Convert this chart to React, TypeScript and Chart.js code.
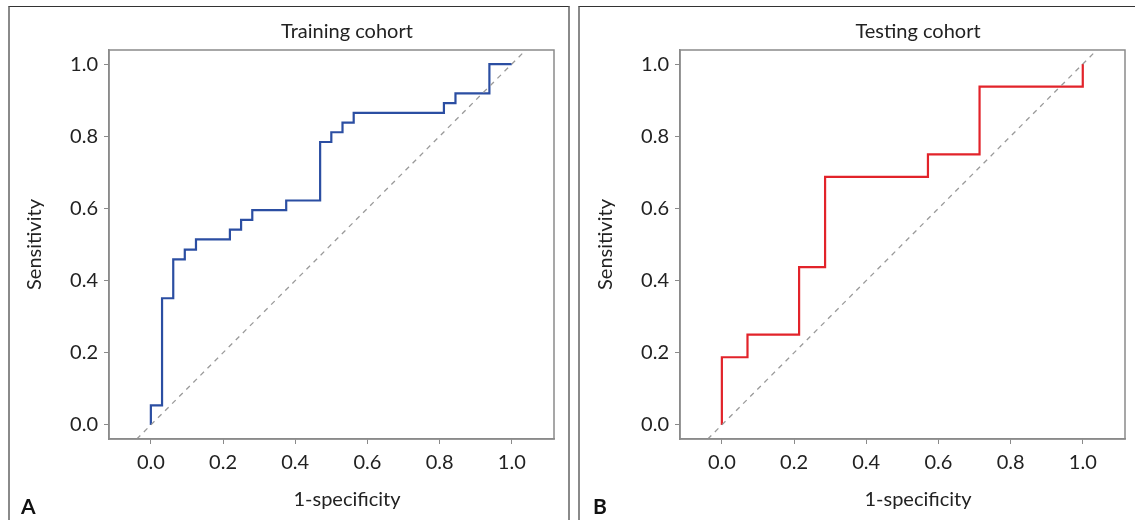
import React, { useEffect, useRef } from 'react';
import { Chart, registerables } from 'chart.js';

Chart.register(...registerables);

// ---- data ----
const trainingFpr = [0, 0, 0.031, 0.062, 0.094, 0.125, 0.219, 0.25, 0.281, 0.375, 0.469, 0.5, 0.531, 0.562, 0.812, 0.844, 0.938, 1.0];
const trainingTpr = [0, 0.054, 0.351, 0.459, 0.486, 0.514, 0.541, 0.568, 0.595, 0.622, 0.784, 0.811, 0.838, 0.865, 0.892, 0.919, 1.0, 1.0];

const testingFpr = [0, 0, 0.071, 0.214, 0.286, 0.571, 0.714, 1.0];
const testingTpr = [0, 0.1875, 0.25, 0.4375, 0.6875, 0.75, 0.9375, 1.0];

const xTickValues = [0, 0.2, 0.4, 0.6, 0.8, 1.0];
const yTickValues = [0, 0.2, 0.4, 0.6, 0.8, 1.0];

const X_MIN = -0.116;
const X_MAX = 1.117;
const Y_MIN = -0.039;
const Y_MAX = 1.039;
const chanceLine = [Y_MIN, Y_MAX];

const FONT = "Lato, 'Open Sans', sans-serif";
const FONT_SIZE = 20;
const AXIS_GRAY = '#8a8a8a';
const TEXT_COLOR = '#222222';

const boxPlugin = {
  id: 'plotBox',
  afterDatasetsDraw(chart: any) {
    const { ctx, chartArea } = chart;
    ctx.save();
    ctx.strokeStyle = AXIS_GRAY;
    ctx.lineWidth = 1.5;
    ctx.strokeRect(chartArea.left, chartArea.top, chartArea.right - chartArea.left, chartArea.bottom - chartArea.top);
    ctx.restore();
  },
};

function RocPanel(props: { fpr: number[]; tpr: number[]; color: string; left: number }) {
  const ref = useRef<HTMLCanvasElement | null>(null);
  useEffect(() => {
    if (!ref.current) return;
    const chart = new Chart(ref.current, {
      type: 'line',
      data: {
        datasets: [
          {
            data: chanceLine.map((v) => ({ x: v, y: v })),
            borderColor: '#9a9a9a',
            borderWidth: 1.3,
            borderDash: [5, 5],
            pointRadius: 0,
            clip: 0,
          },
          {
            data: props.fpr.map((v, i) => ({ x: v, y: props.tpr[i] })),
            borderColor: props.color,
            borderWidth: 2.2,
            pointRadius: 0,
            stepped: 'before',
          },
        ],
      },
      options: {
        animation: false,
        responsive: false,
        devicePixelRatio: 1,
        layout: { padding: { left: 0, top: 43, right: 10, bottom: 0 } },
        plugins: { legend: { display: false }, tooltip: { enabled: false }, title: { display: false } },
        scales: {
          x: {
            type: 'linear',
            min: X_MIN,
            max: X_MAX,
            afterBuildTicks: (s: any) => {
              s.ticks = xTickValues.map((v) => ({ value: v }));
            },
            afterFit: (s: any) => {
              s.height = 81;
            },
            ticks: {
              callback: (v: any) => Number(v).toFixed(1),
              font: { family: FONT, size: FONT_SIZE },
              color: TEXT_COLOR,
              padding: 6.4,
              maxRotation: 0,
            },
            grid: { display: true, drawOnChartArea: false, drawTicks: true, tickLength: 5, color: AXIS_GRAY, lineWidth: 1 },
            border: { display: true, color: AXIS_GRAY, width: 1.5 },
          },
          y: {
            type: 'linear',
            min: Y_MIN,
            max: Y_MAX,
            afterBuildTicks: (s: any) => {
              s.ticks = yTickValues.map((v) => ({ value: v }));
            },
            afterFit: (s: any) => {
              s.width = 100;
            },
            ticks: {
              callback: (v: any) => Number(v).toFixed(1),
              font: { family: FONT, size: FONT_SIZE },
              color: TEXT_COLOR,
              padding: 6,
            },
            grid: { display: true, drawOnChartArea: false, drawTicks: true, tickLength: 5, color: AXIS_GRAY, lineWidth: 1 },
            border: { display: true, color: AXIS_GRAY, width: 1.5 },
            title: {
              display: true,
              text: 'Sensitivity',
              font: { family: FONT, size: FONT_SIZE },
              color: TEXT_COLOR,
              padding: { top: 14, bottom: 0 },
            },
          },
        },
      },
      plugins: [boxPlugin],
    } as any);
    return () => chart.destroy();
  }, []);
  return (
    <canvas
      ref={ref}
      width={555}
      height={513}
      style={{ position: 'absolute', left: props.left, top: 7, width: 555, height: 513 }}
    />
  );
}

const textStyle: React.CSSProperties = {
  position: 'absolute',
  fontFamily: FONT,
  fontSize: FONT_SIZE,
  lineHeight: `${FONT_SIZE}px`,
  color: TEXT_COLOR,
  whiteSpace: 'nowrap',
  textAlign: 'center',
  width: 300,
};

const letterStyle: React.CSSProperties = {
  position: 'absolute',
  fontFamily: FONT,
  fontSize: 21,
  fontWeight: 700,
  lineHeight: '21px',
  color: '#111',
};

export default function App() {
  return (
    <div style={{ position: 'absolute', left: 0, top: 0, width: 1135, height: 520, overflow: 'hidden', background: '#fff' }}>
      {/* panel frames */}
      <div style={{ position: 'absolute', left: 8, top: 6, width: 562, height: 520, borderTop: '1px solid #333', borderLeft: `2px solid ${AXIS_GRAY}`, borderRight: `2px solid ${AXIS_GRAY}`, boxSizing: 'border-box' }} />
      <div style={{ position: 'absolute', left: 578, top: 6, width: 560, height: 520, borderTop: '1px solid #333', borderLeft: `2px solid ${AXIS_GRAY}`, boxSizing: 'border-box' }} />

      <RocPanel fpr={trainingFpr} tpr={trainingTpr} color="#2b4ea2" left={9} />
      <RocPanel fpr={testingFpr} tpr={testingTpr} color="#e2232a" left={580} />

      <div style={{ ...textStyle, left: 347 - 150, top: 20 }}>Training cohort</div>
      <div style={{ ...textStyle, left: 347 - 150, top: 488.4 }}>1-specificity</div>
      <div style={{ ...textStyle, left: 918 - 150, top: 20 }}>Testing cohort</div>
      <div style={{ ...textStyle, left: 918 - 150, top: 488.4 }}>1-specificity</div>

      <div style={{ ...letterStyle, left: 21, top: 494.6 }}>A</div>
      <div style={{ ...letterStyle, left: 593, top: 494.6 }}>B</div>
    </div>
  );
}
